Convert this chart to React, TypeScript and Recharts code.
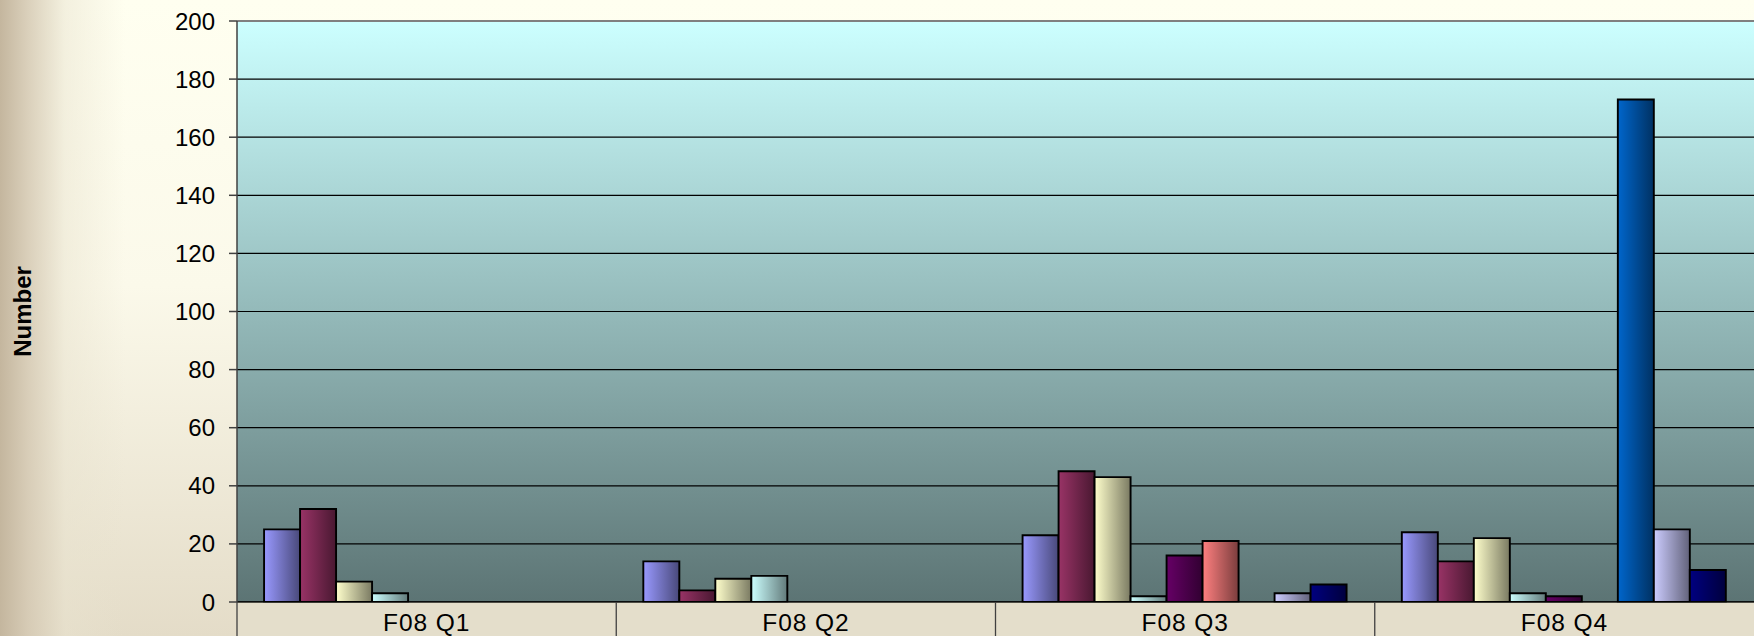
import React from 'react';
import { BarChart, Bar, XAxis, YAxis, CartesianGrid, ReferenceLine } from 'recharts';

const categories = ['F08 Q1', 'F08 Q2', 'F08 Q3', 'F08 Q4'];
const series1 = [25, 14, 23, 24];
const series2 = [32, 4, 45, 14];
const series3 = [7, 8, 43, 22];
const series4 = [3, 9, 2, 3];
const series5 = [0, 0, 16, 2];
const series6 = [0, 0, 21, 0];
const series7 = [0, 0, 0, 173];
const series8 = [0, 0, 3, 25];
const series9 = [0, 0, 6, 11];
const yTicks = [0, 20, 40, 60, 80, 100, 120, 140, 160, 180, 200];

const seriesList = [series1, series2, series3, series4, series5, series6, series7, series8, series9];
const seriesNames = ['Series 1', 'Series 2', 'Series 3', 'Series 4', 'Series 5', 'Series 6', 'Series 7', 'Series 8', 'Series 9'];
const seriesColors = ['#9999FF', '#993366', '#FFFFCC', '#CCFFFF', '#660066', '#FF8080', '#0066CC', '#CCCCFF', '#000080'];

const data = categories.map((c, i) => {
  const row: Record<string, string | number> = { category: c };
  seriesList.forEach((s, k) => {
    row['s' + (k + 1)] = s[i];
  });
  return row;
});

const W = 1754;
const H = 636;
const LEFT = 237;
const TOP = 21;
const XAXIS_H = 34;
const FONT = '"Liberation Sans", Arial, Helvetica, sans-serif';

function darken(hex: string, f: number) {
  const n = parseInt(hex.slice(1), 16);
  const r = Math.round(((n >> 16) & 255) * f);
  const g = Math.round(((n >> 8) & 255) * f);
  const b = Math.round((n & 255) * f);
  return `rgb(${r},${g},${b})`;
}

const CatTick = (props: any) => {
  const { x, y, payload } = props;
  const plotW = typeof props.width === 'number' && props.width > 0 ? props.width : W - LEFT;
  const bw = plotW / categories.length;
  return (
    <g>
      <rect x={x - bw / 2} y={y + 0.75} width={bw} height={XAXIS_H} fill="#E4DECB" />
      <line x1={x - bw / 2} x2={x - bw / 2} y1={y} y2={y + XAXIS_H} stroke="#404040" strokeWidth={1.3} />
      <text x={x} y={y + 29} textAnchor="middle" fontFamily={FONT} fontSize={24.5} letterSpacing={0.9} fill="#000">
        {payload.value}
      </text>
    </g>
  );
};

export default function App() {
  return (
    <div
      style={{
        position: 'absolute',
        left: 0,
        top: 0,
        width: W,
        height: H,
        background:
          'linear-gradient(to right, rgba(196,182,158,1) 0px, rgba(212,200,178,0.85) 28px, rgba(232,226,206,0.5) 65px, rgba(255,255,240,0) 125px), linear-gradient(to bottom, #FFFFF0 0%, #FBF9EA 45%, #E4DCC8 100%)',
      }}
    >
      <BarChart
        width={W}
        height={H}
        data={data}
        margin={{ top: TOP, right: 0, bottom: 0, left: 0 }}
        barCategoryGap="7.14%"
        barGap={0}
      >
        <defs>
          <linearGradient id="plotBg" x1="0" y1="0" x2="0" y2="1">
            <stop offset="0%" stopColor="#CCFFFF" />
            <stop offset="100%" stopColor="#5C7474" />
          </linearGradient>
          {seriesColors.map((c, k) => (
            <linearGradient key={k} id={'barGrad' + k} x1="0" y1="0" x2="1" y2="0">
              <stop offset="0%" stopColor={c} />
              <stop offset="100%" stopColor={darken(c, 0.48)} />
            </linearGradient>
          ))}
        </defs>
        <CartesianGrid vertical={false} stroke="#000" strokeWidth={1.2} fill="url(#plotBg)" fillOpacity={1} />
        <ReferenceLine y={200} stroke="#808080" strokeWidth={2} />
        <XAxis
          dataKey="category"
          height={XAXIS_H}
          interval={0}
          tickLine={false}
          tickSize={0}
          tickMargin={0}
          axisLine={{ stroke: '#000', strokeWidth: 1.5 }}
          tick={<CatTick />}
        />
        <YAxis
          width={LEFT}
          domain={[0, 200]}
          ticks={yTicks}
          interval={0}
          tickSize={8}
          tickMargin={14}
          axisLine={{ stroke: '#404040', strokeWidth: 1.5 }}
          tickLine={{ stroke: '#404040', strokeWidth: 1.5 }}
          tick={{ fill: '#000', fontSize: 24, fontFamily: FONT }}
          label={{
            value: 'Number',
            angle: -90,
            position: 'insideLeft',
            offset: 22,
            style: { textAnchor: 'middle', fontWeight: 'bold', fontSize: 24, fontFamily: FONT, fill: '#000' },
          }}
        />
        {seriesNames.map((name, k) => (
          <Bar
            key={k}
            dataKey={'s' + (k + 1)}
            name={name}
            fill={`url(#barGrad${k})`}
            stroke="#000"
            strokeWidth={1.9}
            isAnimationActive={false}
          />
        ))}
      </BarChart>
    </div>
  );
}
